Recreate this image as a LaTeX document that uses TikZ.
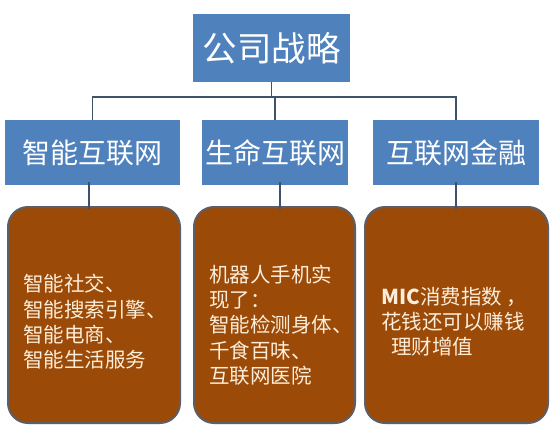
\documentclass[tikz,border=0pt]{standalone}
\usepackage{fontspec}
\setmainfont{Noto Sans CJK SC}
\definecolor{hdblue}{RGB}{79,129,189}
\definecolor{cardbrown}{RGB}{156,74,8}
\definecolor{cardedge}{RGB}{92,94,104}
\definecolor{linkcol}{RGB}{62,82,104}
\definecolor{cream}{RGB}{252,238,218}
\tikzset{
  topbox/.style={fill=hdblue, text=white, minimum height=68pt, inner sep=0pt, font=\fontsize{34.5}{40}\selectfont},
  catbox/.style={fill=hdblue, text=white, minimum height=65pt, inner sep=0pt, font=\fontsize{28}{32}\selectfont},
  card/.style={fill=cardbrown, draw=cardedge, line width=2pt, rounded corners=20pt, minimum height=216pt, inner sep=0pt},
  desc/.style={text=cream, align=left, inner sep=0pt, anchor=west, font=\fontsize{20.5}{25.3}\selectfont},
  link/.style={draw=linkcol, line width=1.6pt},
}
\begin{document}
\begin{tikzpicture}[x=1pt,y=-1pt]
\useasboundingbox (0,0) rectangle (557,425);
\fill[white] (0,0) rectangle (557,425);
% top
\node[topbox, minimum width=157pt] (top) at (271.5,48) {公司战略};
% categories
\node[catbox, minimum width=175pt] (b1) at (92.5,152.5) {智能互联网};
\node[catbox, minimum width=146pt] (b2) at (275,152.5) {生命互联网};
\node[catbox, minimum width=166pt] (b3) at (456,152.5) {互联网金融};
% cards
\node[card, minimum width=172pt] (d1) at (94,315) {};
\node[card, minimum width=161pt] (d2) at (274.5,315) {};
\node[card, minimum width=183pt] (d3) at (456.5,315) {};
% texts
\node[desc] (t1) at (23,322) {智能社交、\\智能搜索引擎、\\智能电商、\\智能生活服务};
\node[desc] (t2) at (209,325) {机器人手机实\\现了：\\智能检测身体、\\千食百味、\\互联网医院};
\node[desc] (t3) at (381,321.5) {\textbf{MIC}消费指数 ，\\花钱还可以赚钱\\\hspace*{10pt}理财增值};
% connectors
\coordinate (bus) at (273,97);
\draw[link] (top.south) -- (top.south |- bus);
\draw[link] (top.south |- bus) -| (b1.north);
\draw[link] (top.south |- bus) -| (b3.north);
\draw[link] (b2.north |- bus) -- (b2.north);
\draw[link] ([xshift=-3.5pt,yshift=3pt]b1.south) -- ([xshift=-3.5pt,yshift=-3pt]b1.south |- d1.north);
\draw[link] ([xshift=5pt,yshift=3pt]b2.south) -- ([xshift=5pt,yshift=-3pt]b2.south |- d2.north);
\draw[link] ([yshift=3pt]b3.south) -- ([yshift=-3pt]b3.south |- d3.north);
\end{tikzpicture}
\end{document}
